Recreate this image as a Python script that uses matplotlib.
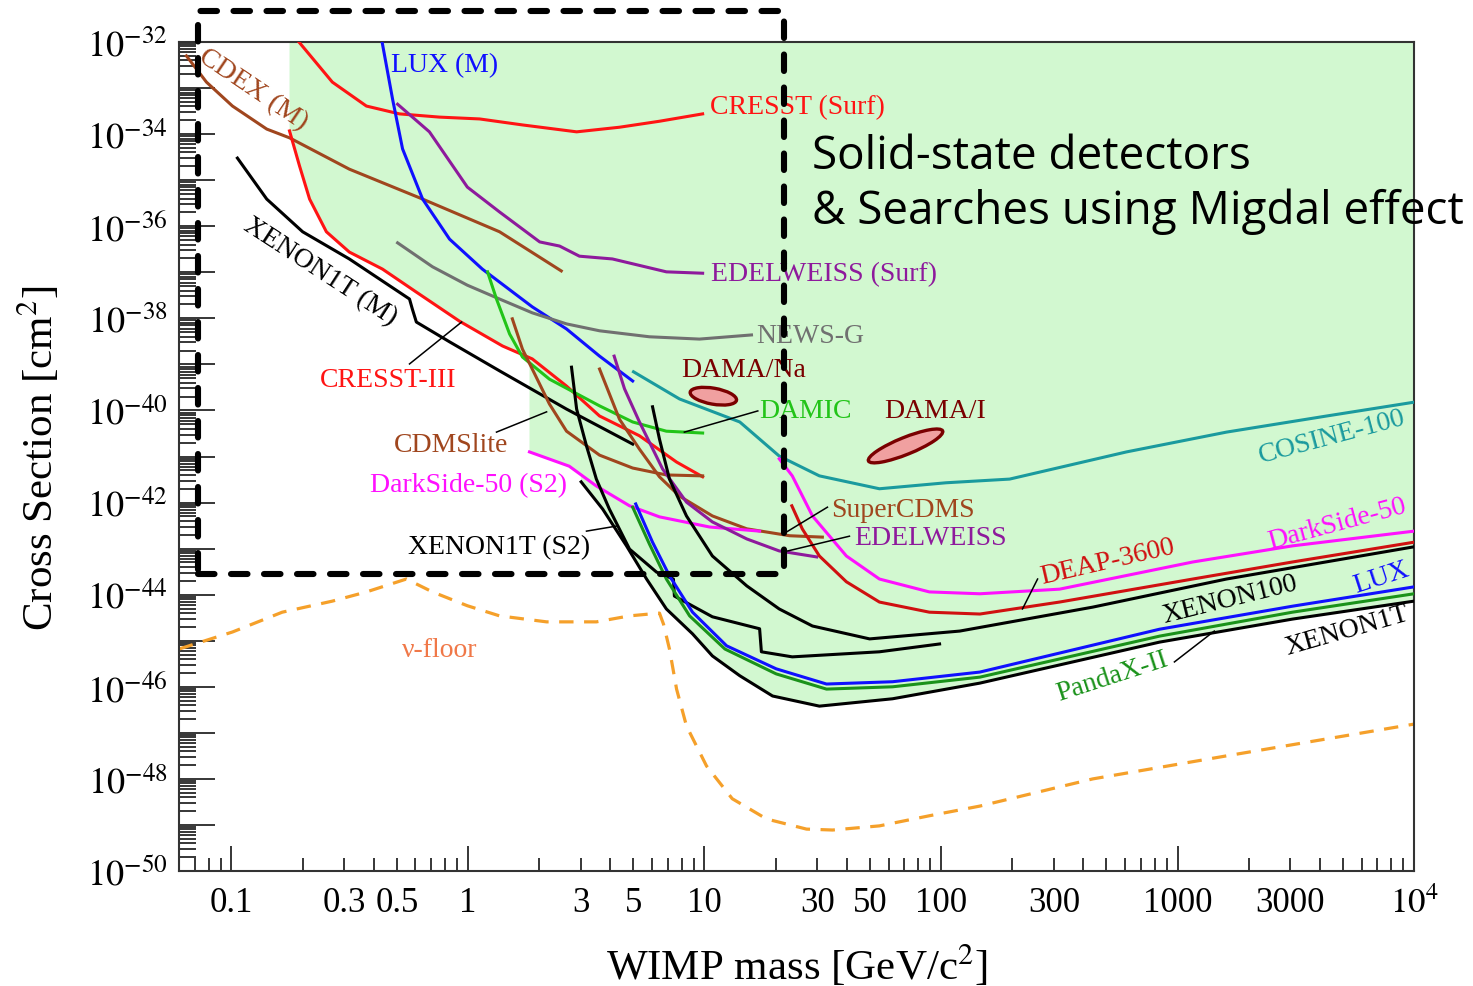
import numpy as np
import matplotlib
matplotlib.use('Agg')
import matplotlib.pyplot as plt
from matplotlib.patches import Ellipse, Rectangle
from matplotlib.transforms import ScaledTranslation
from matplotlib.ticker import LogLocator, FuncFormatter, NullFormatter

plt.rcParams.update({
    'font.family': 'serif',
    'font.serif': ['Liberation Serif', 'DejaVu Serif'],
    'mathtext.fontset': 'stix',
})

# ---------------- data: WIMP mass [GeV] and log10(cross section [cm^2]) ----------------
cdex_m = [0.0645, 0.0784, 0.101, 0.141, 0.176, 0.315, 0.643, 1.36, 2.48]
cdex_s = [-32.30, -32.87, -33.39, -33.89, -34.08, -34.76, -35.41, -36.12, -36.97]

cresst_surf_m = [0.188, 0.267, 0.372, 0.513, 0.757, 1.12, 1.70, 2.88, 4.37, 6.45, 9.82]
cresst_surf_s = [-31.93, -32.87, -33.39, -33.56, -33.63, -33.67, -33.80, -33.95, -33.85, -33.72, -33.56]

cresst3_m = [0.176, 0.194, 0.214, 0.252, 0.315, 0.435, 0.605, 0.920, 1.40, 1.87, 2.61, 3.60, 5.31, 7.62, 9.82]
cresst3_s = [-33.93, -34.69, -35.41, -36.12, -36.56, -36.93, -37.43, -38.06, -38.60, -38.88, -39.47,
             -40.12, -40.55, -41.12, -41.44]

lux_mig_m = [0.431, 0.480, 0.529, 0.643, 0.836, 1.15, 1.87, 2.61, 3.60, 4.97]
lux_mig_s = [-31.93, -33.24, -34.32, -35.41, -36.28, -36.93, -37.75, -38.23, -38.82, -39.36]

edw_surf_m = [0.504, 0.687, 0.994, 1.36, 2.01, 2.44, 2.96, 4.08, 6.90, 9.82]
edw_surf_s = [-33.35, -33.95, -35.15, -35.69, -36.34, -36.43, -36.65, -36.71, -36.99, -37.02]

newsg_m = [0.504, 0.708, 0.994, 1.36, 1.87, 2.61, 3.60, 5.85, 9.52, 15.8]
newsg_s = [-36.36, -36.88, -37.28, -37.58, -37.88, -38.12, -38.27, -38.40, -38.45, -38.36]

xe1t_mig_m = [0.106, 0.141, 0.200, 0.315, 0.566, 0.582, 0.605, 0.836, 1.36, 2.61, 4.97]
xe1t_mig_s = [-34.52, -35.41, -36.12, -36.71, -37.58, -37.80, -38.08, -38.51, -39.14, -39.97, -40.73]

damic_m = [1.21, 1.32, 1.50, 1.70, 2.21, 3.60, 4.97, 6.90, 9.82]
damic_s = [-36.99, -37.58, -38.34, -38.84, -39.32, -39.90, -40.25, -40.45, -40.49]

cdmslite_m = [1.54, 1.70, 1.87, 2.21, 2.61, 3.60, 4.97, 6.90, 9.82]
cdmslite_s = [-38.01, -38.67, -39.10, -39.86, -40.45, -40.97, -41.25, -41.40, -41.42]

supercdms_m = [3.60, 4.37, 5.31, 6.45, 7.84, 10.8, 15.1, 22.9, 31.5]
supercdms_s = [-39.10, -40.19, -40.84, -41.44, -41.86, -42.29, -42.57, -42.72, -42.75]

edw_m = [4.15, 4.59, 5.31, 6.65, 8.39, 10.8, 15.1, 20.7, 29.8]
edw_s = [-38.82, -39.53, -40.25, -41.27, -41.99, -42.42, -42.79, -43.05, -43.18]

ds50_s2_m = [1.82, 2.68, 3.49, 4.82, 6.45, 10.5, 17.1]
ds50_s2_s = [-40.90, -41.21, -41.64, -42.07, -42.31, -42.53, -42.62]

cosine_m = [5.01, 7.84, 14.1, 20.7, 30.6, 54.9, 105, 195, 608, 1610, 4270, 1e4]
cosine_s = [-39.16, -39.75, -40.25, -40.99, -41.42, -41.70, -41.57, -41.49, -40.90, -40.47, -40.12, -39.82]

xe1t_s2_m = [2.74, 2.88, 3.17, 3.49, 3.96, 4.82, 6.27, 7.39, 7.46, 10.8, 17.1, 17.4, 23.5, 54.9, 98.6]
xe1t_s2_s = [-39.06, -39.97, -40.77, -41.49, -42.14, -43.01, -43.51, -43.66, -44.03, -44.48, -44.74,
             -45.24, -45.35, -45.24, -45.07]

xenon100_m = [6.03, 6.45, 7.11, 8.39, 10.8, 15.1, 20.7, 28.6, 49.9, 120, 438, 1610, 1e4]
xenon100_s = [-39.92, -40.62, -41.49, -42.29, -43.16, -43.81, -44.31, -44.68, -44.96, -44.79, -44.27,
              -43.66, -42.96]

deap_m = [23.4, 25.9, 30.6, 39.8, 54.9, 89.3, 146, 317, 1160, 3060, 1e4]
deap_s = [-42.07, -42.57, -43.16, -43.72, -44.16, -44.38, -44.42, -44.16, -43.66, -43.29, -42.86]

ds50_m = [20.7, 23.5, 28.6, 39.8, 54.9, 89.3, 146, 317, 1160, 3060, 1e4]
ds50_s = [-41.05, -41.42, -42.29, -43.16, -43.66, -43.94, -43.98, -43.88, -43.29, -42.94, -42.62]

lux_m = [5.12, 6.03, 7.11, 8.90, 12.4, 20.1, 32.8, 62.4, 146, 839, 3060, 1e4]
lux_s = [-42.03, -42.86, -43.59, -44.38, -45.11, -45.61, -45.94, -45.89, -45.68, -44.75, -44.25, -43.83]

pandax_m = [4.97, 5.85, 6.90, 8.65, 12.2, 20.1, 32.8, 62.4, 146, 839, 3060, 1e4]
pandax_s = [-42.10, -42.90, -43.66, -44.46, -45.18, -45.72, -46.05, -46.00, -45.79, -44.90, -44.38, -43.98]

xenon1t_m = [3.01, 3.71, 4.68, 5.69, 6.90, 8.90, 10.8, 14.1, 19.4, 30.6, 62.4, 146, 839, 3060, 1e4]
xenon1t_s = [-41.55, -42.14, -42.94, -43.66, -44.31, -44.85, -45.33, -45.76, -46.20, -46.42, -46.26,
             -45.92, -45.03, -44.53, -44.14]

nufloor_m = [0.06, 0.101, 0.164, 0.267, 0.372, 0.549, 0.708, 0.994, 1.36, 2.15, 3.49, 4.82, 6.45,
             6.71, 7.11, 7.62, 8.39, 10.2, 13.1, 18.3, 27.0, 34.8, 54.9, 89.3, 146, 438, 1610, 1e4]
nufloor_s = [-45.18, -44.81, -44.38, -44.14, -43.94, -43.66, -43.94, -44.24, -44.46, -44.59, -44.59,
             -44.46, -44.40, -44.64, -45.18, -46.05, -46.85, -47.72, -48.43, -48.87, -49.09, -49.11,
             -49.02, -48.80, -48.59, -48.00, -47.50, -46.81]

# DAMA regions: centre mass, centre log10(sigma)
dama_na = (10.9, -39.69)
dama_i = (70.8, -40.77)

# ---------------- colours ----------------
RED = '#ff1414'
DRED = '#d01010'
BLUE = '#1010ff'
PURPLE = '#8e1a9c'
BROWN = '#a0461e'
GRAY = '#707070'
LGREEN = '#22c418'
DGREEN = '#1a921a'
TEAL = '#1a9a9e'
MAGENTA = '#ff10ff'
DAMA = '#7a0000'
ORANGE = '#f5a02a'
FILL = '#d2f8d0'

fig = plt.figure(figsize=(14.73, 9.87), dpi=100)
ax = fig.add_axes([0.1215, 0.1165, 0.8385, 0.8399])
ax.set_xscale('log')
ax.set_yscale('log')
ax.set_xlim(0.06, 1e4)
ax.set_ylim(1e-50, 1e-32)


def sig(v):
    return 10.0 ** np.asarray(v)


# ---------------- excluded region ----------------
c3m = np.array(cresst3_m)
c3s = np.array(cresst3_s)
edge = ds50_s2_m[0]
c3_edge = np.interp(np.log10(edge), np.log10(c3m), c3s)
x1t_start = xenon1t_m[0]
ds_edge = np.interp(np.log10(x1t_start), np.log10(ds50_s2_m), ds50_s2_s)
keep = c3m < edge
ds_keep = np.array(ds50_s2_m) < x1t_start
poly_m = np.concatenate([[c3m[0]], c3m[keep], [edge],
                         np.array(ds50_s2_m)[ds_keep], [x1t_start],
                         xenon1t_m, [xenon1t_m[-1]]])
poly_s = np.concatenate([[-32.0], c3s[keep], [c3_edge],
                         np.array(ds50_s2_s)[ds_keep], [ds_edge],
                         xenon1t_s, [-32.0]])
ax.fill(poly_m, sig(poly_s), color=FILL, lw=0, zorder=0)

# ---------------- curves ----------------
curves = [
    (cdex_m, cdex_s, BROWN),
    (cresst_surf_m, cresst_surf_s, RED),
    (cresst3_m, cresst3_s, RED),
    (lux_mig_m, lux_mig_s, BLUE),
    (edw_surf_m, edw_surf_s, PURPLE),
    (newsg_m, newsg_s, GRAY),
    (xe1t_mig_m, xe1t_mig_s, 'black'),
    (cosine_m, cosine_s, TEAL),
    (damic_m, damic_s, LGREEN),
    (cdmslite_m, cdmslite_s, BROWN),
    (supercdms_m, supercdms_s, BROWN),
    (ds50_s2_m, ds50_s2_s, MAGENTA),
    (edw_m, edw_s, PURPLE),
    (xe1t_s2_m, xe1t_s2_s, 'black'),
    (xenon100_m, xenon100_s, 'black'),
    (ds50_m, ds50_s, MAGENTA),
    (deap_m, deap_s, DRED),
    (xenon1t_m, xenon1t_s, 'black'),
    (pandax_m, pandax_s, DGREEN),
    (lux_m, lux_s, BLUE),
]
for m, s, c in curves:
    ax.plot(m, sig(s), color=c, lw=2.2, zorder=3, solid_joinstyle='round')

ax.plot(nufloor_m, sig(nufloor_s), color=ORANGE, lw=2.3, ls=(0, (4.5, 3.3)), zorder=2)

# DAMA ellipses (pixel sized, anchored at data centre)
for (cm, cs), w, h, ang in [(dama_na, 0.47, 0.16, -10), (dama_i, 0.80, 0.17, 22)]:
    tr = fig.dpi_scale_trans + ScaledTranslation(cm, 10.0 ** cs, ax.transData)
    ax.add_patch(Ellipse((0, 0), w, h, angle=ang, transform=tr,
                         facecolor='#f0a0a0', edgecolor=DAMA, lw=2.4, zorder=4))

# ---------------- labels ----------------
labels = [
    ('CDEX (M)', 0.123, -33.02, BROWN, 'center', -34),
    ('LUX (M)', 0.475, -32.48, BLUE, 'left', 0),
    ('CRESST (Surf)', 10.5, -33.41, RED, 'left', 0),
    ('EDELWEISS (Surf)', 10.7, -37.02, PURPLE, 'left', 0),
    ('NEWS-G', 16.6, -38.38, GRAY, 'left', 0),
    ('XENON1T (M)', 0.236, -36.97, 'black', 'center', -33),
    ('CRESST-III', 0.461, -39.32, RED, 'center', 0),
    ('DAMA/Na', 8.0, -39.10, DAMA, 'left', 0),
    ('DAMIC', 17.1, -39.99, LGREEN, 'left', 0),
    ('DAMA/I', 57.7, -40.01, DAMA, 'left', 0),
    ('CDMSlite', 0.851, -40.73, BROWN, 'center', 0),
    ('DarkSide-50 (S2)', 1.01, -41.62, MAGENTA, 'center', 0),
    ('SuperCDMS', 34.4, -42.14, BROWN, 'left', 0),
    ('EDELWEISS', 43.0, -42.75, PURPLE, 'left', 0),
    ('XENON1T (S2)', 1.36, -42.96, 'black', 'center', 0),
    ('COSINE-100', 4520, -40.55, TEAL, 'center', 15),
    ('DarkSide-50', 4750, -42.44, MAGENTA, 'center', 15),
    ('DEAP-3600', 506, -43.27, DRED, 'center', 13),
    ('XENON100', 1660, -44.09, 'black', 'center', 14),
    ('LUX', 7300, -43.62, BLUE, 'center', 18),
    ('XENON1T', 5190, -44.77, 'black', 'center', 16),
    ('PandaX-II', 531, -45.76, DGREEN, 'center', 18),
    ('ν-floor', 0.757, -45.18, '#f07848', 'center', 0),
]
for txt, xm, ys, c, ha, rot in labels:
    ax.text(xm, 10.0 ** ys, txt, color=c, fontsize=20, ha=ha, va='center',
            rotation=rot, rotation_mode='anchor', zorder=6)

pointers = [
    ((0.566, -38.99), (0.940, -38.08)),
    ((1.32, -40.47), (2.15, -40.03)),
    ((8.22, -40.47), (16.8, -40.01)),
    ((3.17, -42.62), (4.25, -42.51)),
    ((22.2, -42.64), (33.1, -42.10)),
    ((22.5, -43.05), (41.0, -42.73)),
    ((221, -44.31), (256, -43.66)),
    ((970, -45.46), (1430, -44.79)),
]
for (xa, ya), (xb, yb) in pointers:
    ax.plot([xa, xb], [10.0 ** ya, 10.0 ** yb], color='black', lw=1.1, zorder=5)

# ---------------- axes styling ----------------
ax.set_xticks([0.1, 1, 10, 100, 1000, 1e4])
ax.set_xticklabels(['0.1', '1', '10', '100', '1000', r'$10^4$'])
minor_x = [k * 10.0 ** e for e in range(-2, 4) for k in range(2, 10) if 0.06 <= k * 10.0 ** e < 1e4]
show = {0.3, 0.5, 3, 5, 30, 50, 300, 3000}
minor_lab = [('%g' % v) if any(abs(v - s) < 1e-9 * s for s in show) else '' for v in minor_x]
ax.set_xticks(minor_x, minor=True)
ax.set_xticklabels(minor_lab, minor=True)

ax.yaxis.set_major_locator(LogLocator(base=10, numticks=40))
ax.yaxis.set_minor_locator(LogLocator(base=10, subs=np.arange(2, 10) * 1.0, numticks=40))


def ylab(v, pos):
    e = int(round(np.log10(v)))
    return r'$10^{%d}$' % e if e % 2 == 0 else ''


ax.yaxis.set_major_formatter(FuncFormatter(ylab))
ax.yaxis.set_minor_formatter(NullFormatter())

ax.tick_params(which='both', direction='in', top=False, right=False, width=1.1, color='black')
ax.tick_params(axis='x', which='major', length=18, pad=11, labelsize=25)
ax.tick_params(axis='x', which='minor', length=9.5, pad=11, labelsize=25)
ax.tick_params(axis='y', which='major', length=26, pad=8, labelsize=26)
ax.tick_params(axis='y', which='minor', length=12.5)
for sp in ax.spines.values():
    sp.set_linewidth(1.5)
    sp.set_color('#333333')

ax.set_xlabel(r'WIMP mass [GeV/c$^2$]', fontsize=31)
ax.set_ylabel(r'Cross Section [cm$^2$]', fontsize=31)
ax.xaxis.set_label_coords(0.5, -0.085)
ax.yaxis.set_label_coords(-0.095, 0.5)

# ---------------- overlay: dashed box + note ----------------
fig.patches.append(Rectangle((0.1344, 0.4174), 0.3978, 0.5704, transform=fig.transFigure,
                             fill=False, ec='black', lw=4.4, ls=(0, (2.7, 2.7)),
                             capstyle='round', joinstyle='round', zorder=10))
fig.text(0.5513, 0.8409, 'Solid-state detectors', family='Open Sans', fontsize=33,
         ha='left', va='center', zorder=11)
fig.text(0.5513, 0.7852, '& Searches using Migdal effect', family='Open Sans', fontsize=33,
         ha='left', va='center', zorder=11)

fig.savefig('out.png', dpi=100)
